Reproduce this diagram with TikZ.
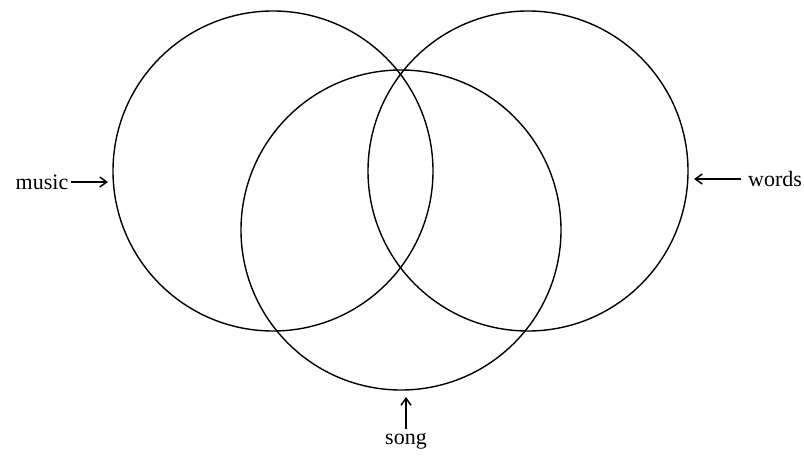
\documentclass[tikz,border=0pt]{standalone}
\usepackage{fontspec}
\setmainfont{Liberation Serif}
\usetikzlibrary{arrows.meta}
\begin{document}
\begin{tikzpicture}[x=1pt,y=-1pt,
  ring/.style={circle,draw,line width=1.4pt,minimum size=320pt,inner sep=0pt},
  lbl/.style={inner sep=0pt,font=\fontsize{22}{26}\selectfont},
  pointer/.style={line width=1.2pt,-{Straight Barb[length=7pt,width=10pt,line width=1.5pt]}}]
\useasboundingbox (0,0) rectangle (804,458);
\node[ring] (music) at (273,171) {};
\node[ring] (words) at (528,171) {};
\node[ring] (song) at (401,230) {};
\node[lbl] (musiclbl) at (42,182) {music};
\node[lbl] (wordslbl) at (775,179) {words};
\node[lbl,anchor=north] (songlbl) at (406,433) {song};
\coordinate (musictip) at (108,182);
\coordinate (wordstip) at (694,179);
\coordinate (songtip) at (406,397);
\draw[pointer,shorten <=3pt] (musiclbl.east) -- (musictip);
\draw[pointer,shorten <=7pt] (wordslbl.west) -- (wordstip);
\draw[pointer,shorten <=4pt] (songlbl.north) -- (songtip);
\end{tikzpicture}
\end{document}
